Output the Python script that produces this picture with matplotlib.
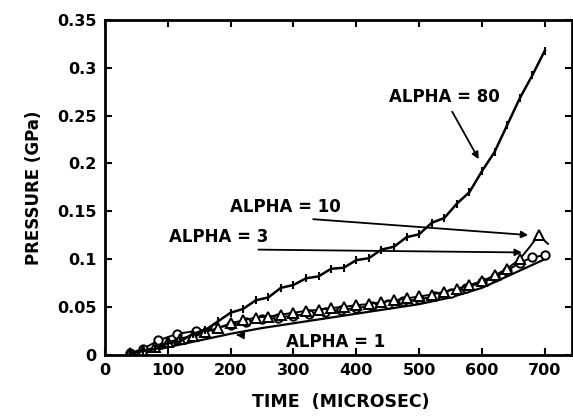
import matplotlib
matplotlib.use("Agg")
import matplotlib.pyplot as plt

# ---- data ----
t80 = [40, 60, 80, 100, 120, 140, 160, 180, 200, 220, 240, 260, 280, 300, 320, 340,
       360, 380, 400, 420, 440, 460, 480, 500, 520, 540, 560, 580, 600, 620, 640,
       660, 680, 700]
p80 = [0.001, 0.004, 0.006, 0.012, 0.014, 0.022, 0.026, 0.035, 0.044, 0.048, 0.057,
       0.060, 0.070, 0.073, 0.080, 0.082, 0.090, 0.091, 0.099, 0.101, 0.110, 0.113,
       0.123, 0.126, 0.138, 0.143, 0.158, 0.170, 0.192, 0.212, 0.240, 0.268, 0.292,
       0.318]

t10 = [40, 60, 80, 100, 120, 140, 160, 180, 200, 220, 240, 260, 280, 300, 320, 340,
       360, 380, 400, 420, 440, 460, 480, 500, 520, 540, 560, 580, 600, 620, 640,
       660, 675, 690, 705]
p10 = [0.002, 0.004, 0.008, 0.013, 0.017, 0.020, 0.024, 0.028, 0.033, 0.036, 0.039,
       0.040, 0.042, 0.044, 0.046, 0.047, 0.049, 0.050, 0.052, 0.053, 0.055, 0.057,
       0.059, 0.061, 0.063, 0.066, 0.069, 0.073, 0.077, 0.083, 0.090, 0.100, 0.112,
       0.125, 0.116]

t3 = [40, 60, 85, 115, 145, 175, 200, 225, 250, 275, 300, 325, 350, 375, 400, 425,
      450, 475, 500, 525, 550, 575, 600, 620, 640, 660, 680, 700]
p3 = [0.002, 0.006, 0.015, 0.022, 0.025, 0.028, 0.031, 0.034, 0.037, 0.039, 0.041,
      0.043, 0.045, 0.047, 0.049, 0.051, 0.053, 0.056, 0.058, 0.061, 0.065, 0.070,
      0.076, 0.081, 0.088, 0.096, 0.102, 0.104]

t1 = [50, 100, 150, 200, 250, 300, 350, 400, 450, 500, 550, 600, 650, 700]
p1 = [0.000, 0.008, 0.015, 0.022, 0.028, 0.033, 0.038, 0.043, 0.048, 0.053, 0.060,
      0.070, 0.085, 0.100]

xticks = [0, 100, 200, 300, 400, 500, 600, 700]
yticks = [0, 0.05, 0.1, 0.15, 0.2, 0.25, 0.3, 0.35]
ytick_labels = ["0", "0.05", "0.1", "0.15", "0.2", "0.25", "0.3", "0.35"]

plt.rcParams['font.family'] = ['DejaVu Sans']
plt.rcParams['font.weight'] = 'bold'

fig = plt.figure(figsize=(5.73, 4.16), dpi=100)
ax = fig.add_axes([0.183, 0.147, 0.815, 0.805])

ax.plot(t1, p1, color='black', lw=1.6)
ax.plot(t3, p3, color='black', lw=1.4, marker='o', ms=6, mfc='white', mec='black', mew=1.4)
ax.plot(t10, p10, color='black', lw=1.4, marker='^', ms=6.5, mfc='white', mec='black', mew=1.4,
        markevery=list(range(0, len(t10) - 3)) + [len(t10) - 2])
ax.plot(t80, p80, color='black', lw=1.8, marker='|', ms=6, mew=1.5)

ax.set_xlim(0, 743)
ax.set_ylim(0, 0.35)
ax.set_xticks(xticks)
ax.set_yticks(yticks)
ax.set_yticklabels(ytick_labels)
ax.tick_params(direction='in', length=5, width=1.5, top=True, right=True,
               labelsize=11.5, pad=6)
for lbl in ax.get_xticklabels() + ax.get_yticklabels():
    lbl.set_fontweight('bold')
for s in ax.spines.values():
    s.set_linewidth(2)

ax.set_xlabel("TIME  (MICROSEC)", fontsize=12.5, fontweight='bold', labelpad=7)
ax.xaxis.set_label_coords(0.505, -0.115)
ax.set_ylabel("PRESSURE (GPa)", fontsize=12, fontweight='bold', labelpad=10)

arrow = dict(arrowstyle='-|>', color='black', lw=1.3, mutation_scale=10)
ax.annotate("ALPHA = 80", xy=(597, 0.202), xytext=(540, 0.269), fontsize=12,
            fontweight='bold', ha='center', va='center', arrowprops=arrow)
ax.annotate("", xy=(678, 0.125), xytext=(327, 0.142), arrowprops=arrow)
ax.text(287, 0.155, "ALPHA = 10", fontsize=12, fontweight='bold', ha='center', va='center')
ax.annotate("", xy=(668, 0.107), xytext=(240, 0.110), arrowprops=arrow)
ax.text(181, 0.123, "ALPHA = 3", fontsize=12, fontweight='bold', ha='center', va='center')
ax.annotate("ALPHA = 1", xy=(205, 0.021), xytext=(367, 0.0136), fontsize=12,
            fontweight='bold', ha='center', va='center',
            arrowprops=dict(arrowstyle='-|>', color='black', lw=1.3, mutation_scale=10,
                            shrinkA=33))

fig.savefig("out.png", dpi=100)
